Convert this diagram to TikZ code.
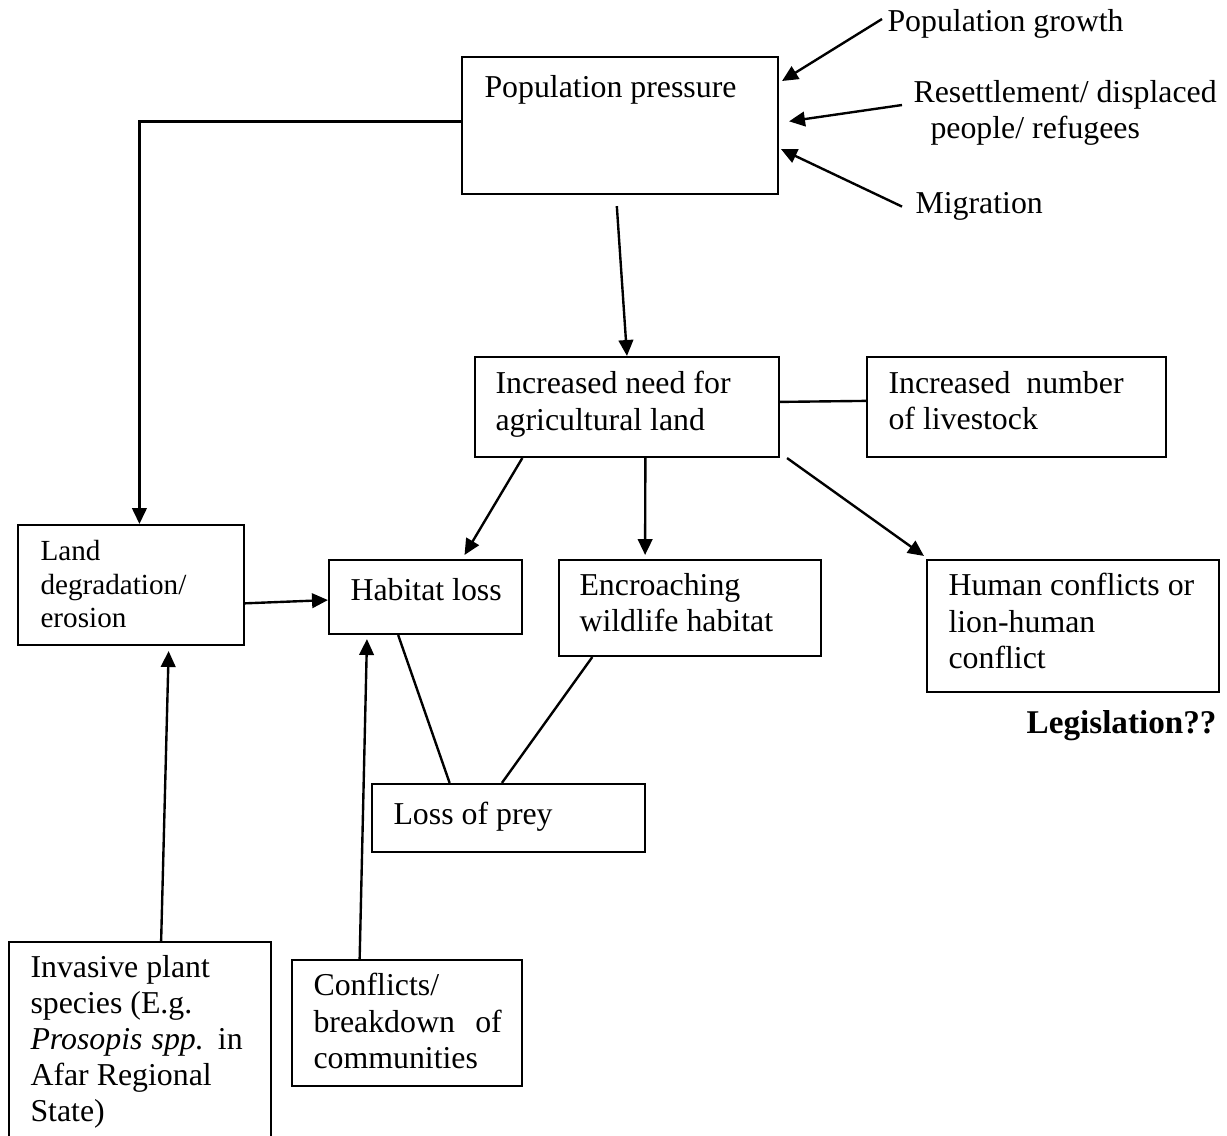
\documentclass[tikz,border=0pt]{standalone}
\usepackage{fontspec}
\setmainfont{Liberation Serif}
\usetikzlibrary{arrows.meta,calc,fit}

\begin{document}
\begin{tikzpicture}[x=0.377pt,y=-0.377pt,
    box/.style={draw,line width=0.8pt,inner sep=0pt},
    lbl/.style={inner sep=0pt,anchor=north west,align=left,
        font=\fontsize{12}{13.6}\selectfont,execute at begin node=\strut},
    arr/.style={line width=0.9pt,-{Triangle[length=6pt,width=5.5pt]}},
    link/.style={line width=0.9pt}]
    \clip (0,0) rectangle (1227,1135);

    % boxes
    \node[box,fit={(462,57) (778,194)}] (pp) {};
    \node[box,fit={(475,357) (779,457)}] (need) {};
    \node[box,fit={(867,357) (1166,457)}] (num) {};
    \node[box,fit={(18,525) (244,645)}] (land) {};
    \node[box,fit={(329,560) (522,634)}] (hab) {};
    \node[box,fit={(559,560) (821,656)}] (enc) {};
    \node[box,fit={(927,560) (1219,692)}] (hum) {};
    \node[box,fit={(372,784) (645,852)}] (prey) {};
    \node[box,fit={(292,960) (522,1086)}] (conf) {};
    \node[box,fit={(9,942) (271,1170)}] (inv) {};

    % box texts
    \node[lbl] (pp-t) at (484,72) {Population pressure};
    \node[lbl] (need-t) at (495,371) {Increased need for\\agricultural land};
    \node[lbl] (num-t) at (888,371) {Increased\ \ number\\of livestock};
    \node[lbl,font=\fontsize{11}{12.65}\selectfont] (land-t) at (40,540) {Land\\degradation/\\erosion};
    \node[lbl] (hab-t) at (350,575) {Habitat loss};
    \node[lbl] (enc-t) at (579,573) {Encroaching\\wildlife habitat};
    \node[lbl] (hum-t) at (948,573) {Human conflicts or\\lion-human\\conflict};
    \node[lbl] (prey-t) at (393,799) {Loss of prey};
    \node[lbl] (conf-t) at (313,973) {Conflicts/\\\makebox[71pt][s]{breakdown of}\\communities};
    \node[lbl] (inv-t) at (30,955) {Invasive plant\\species (E.g.\\\makebox[80pt][s]{\textit{Prosopis spp.} in}\\Afar Regional\\State)};

    % free labels
    \node[lbl] (gr) at (887,6) {Population growth};
    \node[lbl] (rs) at (913,80) {Resettlement/ displaced\\\hspace*{6.4pt}people/ refugees};
    \node[lbl] (mg) at (915,188) {Migration};
    \node[inner sep=0pt,anchor=base east,font=\fontsize{12.5}{14}\selectfont\bfseries] (legis) at (1217,733) {Legislation??};

    % causes of population pressure
    \draw[arr] ($(gr.north west)!0.35!(gr.south west)+(-5,0)$) -- ($(pp.north east)!0.18!(pp.south east)+(3,0)$);
    \draw[arr] ($(rs.north west)+(-11,25)$) -- ($(pp.north east)!0.47!(pp.south east)+(10,0)$);
    \draw[arr] ($(mg.west)+(-13,0)$) -- ($(pp.north east)!0.67!(pp.south east)+(2,0)$);

    % main chain
    \draw[arr] ($(pp.south west)!0.49!(pp.south east)+(0,11)$) -- ($(need.north west)!0.5!(need.north east)$);
    \draw[arr] ($(pp.north west)!0.47!(pp.south west)$) -| ($(land.north west)!0.537!(land.north east)$);
    \draw[arr] ($(land.north east)!0.65!(land.south east)$) -- ($(hab.north west)!0.54!(hab.south west)$);
    \draw[link] ($(need.north east)!0.45!(need.south east)$) -- ($(num.north west)!0.44!(num.south west)$);
    \draw[arr] ($(need.south west)!0.158!(need.south east)$) -- ($(hab.north west)!0.70!(hab.north east)+(0,-4)$);
    \draw[arr] ($(need.south west)!0.56!(need.south east)$) -- ($(enc.north west)!0.33!(enc.north east)+(0,-4)$);
    \draw[arr] ($(need.south east)+(7,0)$) -- ($(hum.north west)+(-2,-3)$);

    % loss of prey
    \draw[link] ($(hab.south west)!0.36!(hab.south east)$) -- ($(prey.north west)!0.286!(prey.north east)$);
    \draw[link] ($(enc.south west)!0.13!(enc.south east)$) -- ($(prey.north west)!0.476!(prey.north east)$);

    % bottom causes
    \draw[arr] ($(inv.north west)!0.58!(inv.north east)$) -- ($(land.south west)!0.665!(land.south east)+(0,5)$);
    \draw[arr] ($(conf.north west)!0.296!(conf.north east)$) -- ($(hab.south west)!0.20!(hab.south east)+(0,4)$);
\end{tikzpicture}
\end{document}
